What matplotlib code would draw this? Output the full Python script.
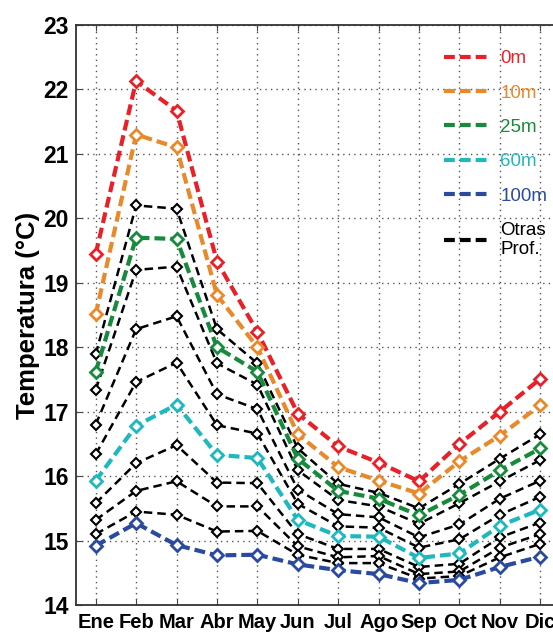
import matplotlib
matplotlib.use('Agg')
import matplotlib.pyplot as plt
from matplotlib.lines import Line2D

plt.rcParams['font.family'] = ['Liberation Sans', 'DejaVu Sans']

meses = ['Ene', 'Feb', 'Mar', 'Abr', 'May', 'Jun', 'Jul', 'Ago', 'Sep', 'Oct', 'Nov', 'Dic']

# temperaturas (°C) por profundidad
t0 = [19.45, 22.13, 21.67, 19.33, 18.24, 16.97, 16.46, 16.21, 15.92, 16.50, 17.00, 17.51]
t10 = [18.51, 21.30, 21.10, 18.81, 18.00, 16.65, 16.14, 15.93, 15.73, 16.23, 16.63, 17.10]
t25 = [17.62, 19.70, 19.68, 18.00, 17.62, 16.27, 15.77, 15.65, 15.39, 15.71, 16.09, 16.43]
t60 = [15.93, 16.78, 17.11, 16.33, 16.28, 15.32, 15.07, 15.06, 14.73, 14.80, 15.23, 15.48]
t100 = [14.92, 15.27, 14.93, 14.77, 14.78, 14.63, 14.54, 14.48, 14.34, 14.39, 14.59, 14.75]

# otras profundidades
otras = [
    [17.89, 20.20, 20.15, 18.28, 17.75, 16.43, 15.88, 15.74, 15.50, 15.88, 16.27, 16.65],
    [17.34, 19.20, 19.25, 17.75, 17.42, 16.09, 15.63, 15.53, 15.26, 15.58, 15.92, 16.25],
    [16.80, 18.28, 18.48, 17.27, 17.04, 15.79, 15.41, 15.36, 15.05, 15.25, 15.65, 15.93],
    [16.34, 17.46, 17.76, 16.79, 16.66, 15.57, 15.22, 15.20, 14.89, 15.02, 15.40, 15.68],
    [15.58, 16.20, 16.48, 15.90, 15.89, 15.10, 14.87, 14.87, 14.59, 14.64, 15.05, 15.28],
    [15.32, 15.77, 15.92, 15.53, 15.53, 14.91, 14.74, 14.76, 14.48, 14.52, 14.89, 15.10],
    [15.10, 15.45, 15.40, 15.14, 15.15, 14.78, 14.65, 14.65, 14.41, 14.45, 14.74, 14.95],
]

etiquetas = ['0m', '10m', '25m', '60m', '100m']
colores = ['#e82128', '#e8892b', '#178a3c', '#1fb8bf', '#2a4aa0']

x = list(range(1, 13))

fig = plt.figure(figsize=(5.53, 6.34), dpi=100)
ax = fig.add_axes([75.5 / 553, 29 / 634, 485 / 553, 580 / 634])

for serie in otras:
    ax.plot(x, serie, color='black', lw=1.8, ls=(0, (3.4, 2.0)),
            marker='D', ms=5.5, mfc='white', mec='black', mew=1.5, zorder=3)

for serie, c in zip([t0, t10, t25, t60, t100], colores):
    ax.plot(x, serie, color=c, lw=3, ls=(0, (2.6, 1.2)),
            marker='D', ms=6, mfc='white', mec=c, mew=2, zorder=4)

ax.set_xlim(0.5, 12.5)
ax.set_ylim(14, 23)
ax.set_xticks(x)
ax.set_xticklabels(meses, fontsize=14.5, fontweight='bold')
ax.set_yticks(range(14, 24))
ax.tick_params(axis='y', labelsize=16.5, pad=5)
for lab in ax.get_yticklabels():
    lab.set_fontweight('bold')
ax.tick_params(direction='in', top=True, right=True, length=4, color='#444444')
ax.tick_params(axis='x', pad=6)
ax.grid(True, ls=(0, (1, 3)), color='#555555', lw=1)
for s in ax.spines.values():
    s.set_color('#333333')
    s.set_linewidth(1.3)

ax.set_ylabel('Temperatura (°C)', fontsize=18.5, fontweight='bold', labelpad=2)

handles = [Line2D([], [], color=c, lw=3, ls=(0, (2.6, 1.2))) for c in colores]
handles.append(Line2D([], [], color='black', lw=3, ls=(0, (2.6, 1.2))))
leg = fig.legend(handles, etiquetas + ['Otras\nProf.'], loc='upper left',
                 bbox_to_anchor=(444 / 553, 1 - 50 / 634), frameon=False,
                 fontsize=13.5, handlelength=2.45, handletextpad=0.55,
                 labelspacing=0.92, borderpad=0, borderaxespad=0,
                 labelcolor='linecolor')

fig.savefig('out.png', dpi=100)
